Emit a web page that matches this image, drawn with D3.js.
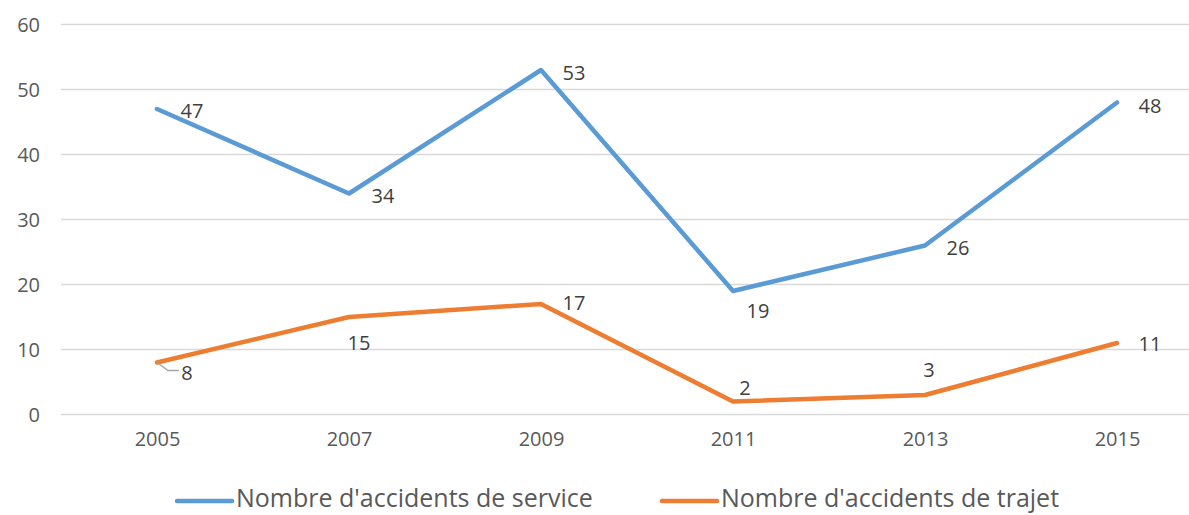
<!DOCTYPE html>
<html>
<head>
<meta charset="utf-8">
<script src="https://cdn.jsdelivr.net/npm/d3@7"></script>
<style>
  body { margin: 0; background: #fff; }
  text { font-family: "Open Sans", sans-serif; fill: #595959; }
</style>
</head>
<body>
<div id="chart"></div>
<script>
var years = ["2005", "2007", "2009", "2011", "2013", "2015"];
var service = [47, 34, 53, 19, 26, 48];
var trajet = [8, 15, 17, 2, 3, 11];
var yTicks = [0, 10, 20, 30, 40, 50, 60];
var seriesNames = ["Nombre d'accidents de service", "Nombre d'accidents de trajet"];

// label offsets (dx, dy) relative to each point
var serviceOffsets = [[35, 2], [34, 2], [33, 3], [25, 20], [33, 2], [33, 3]];
var trajetOffsets = [[30, 10], [10, 26], [33, -1], [12, -14], [4, -25], [33, 1]];

var width = 1189, height = 515;
var svg = d3.select("#chart").append("svg")
  .attr("width", width)
  .attr("height", height);

var x = d3.scalePoint()
  .domain(years)
  .range([157, 1117]);

var y = d3.scaleLinear()
  .domain([0, 60])
  .range([414.5, 24.5]);

// gridlines
svg.append("g")
  .selectAll("line")
  .data(yTicks)
  .enter()
  .append("line")
  .attr("x1", 61)
  .attr("x2", 1213)
  .attr("y1", function(d) { return y(d); })
  .attr("y2", function(d) { return y(d); })
  .attr("stroke", "#d9d9d9")
  .attr("stroke-width", 1.3);

// y axis labels
var yAxis = svg.append("g")
  .attr("transform", "translate(40,0)")
  .call(d3.axisLeft(y).tickValues(yTicks).tickSize(0).tickPadding(0));
yAxis.select(".domain").remove();
yAxis.selectAll("text")
  .style("font-size", "20px")
  .attr("fill", "#595959")
  .attr("dy", "0.35em")
  .attr("font-family", "Open Sans");

// x axis labels
var xAxis = svg.append("g")
  .attr("transform", "translate(0,414.5)")
  .call(d3.axisBottom(x).tickSize(0).tickPadding(17));
xAxis.select(".domain").remove();
xAxis.selectAll("text")
  .style("font-size", "20px")
  .attr("fill", "#595959")
  .attr("font-family", "Open Sans");

var line = d3.line()
  .x(function(d, i) { return x(years[i]); })
  .y(function(d) { return y(d); });

function drawSeries(values, color, offsets) {
  svg.append("path")
    .datum(values)
    .attr("d", line)
    .attr("fill", "none")
    .attr("stroke", color)
    .attr("stroke-width", 4.5)
    .attr("stroke-linejoin", "round")
    .attr("stroke-linecap", "round");

  svg.append("g")
    .selectAll("text")
    .data(values)
    .enter()
    .append("text")
    .attr("x", function(d, i) { return x(years[i]) + offsets[i][0]; })
    .attr("y", function(d, i) { return y(d) + offsets[i][1]; })
    .attr("text-anchor", "middle")
    .attr("dy", "0.35em")
    .style("font-size", "20px")
    .style("fill", "#404040")
    .text(function(d) { return d; });
}

drawSeries(service, "#5b9bd5", serviceOffsets);
drawSeries(trajet, "#ed7d31", trajetOffsets);

// leader line for the first trajet label
svg.append("path")
  .attr("d", "M" + x(years[0]) + "," + y(trajet[0]) +
    " L" + (x(years[0]) + 11) + "," + (y(trajet[0]) + 8) +
    " L" + (x(years[0]) + 22) + "," + (y(trajet[0]) + 8))
  .attr("fill", "none")
  .attr("stroke", "#a6a6a6")
  .attr("stroke-width", 1.3);

// legend
var legendItems = [
  { name: seriesNames[0], color: "#5b9bd5", x: 177 },
  { name: seriesNames[1], color: "#ed7d31", x: 662 }
];
var legend = svg.append("g");
legendItems.forEach(function(item) {
  legend.append("line")
    .attr("x1", item.x)
    .attr("x2", item.x + 55)
    .attr("y1", 501)
    .attr("y2", 501)
    .attr("stroke", item.color)
    .attr("stroke-width", 4.5)
    .attr("stroke-linecap", "round");
  legend.append("text")
    .attr("x", item.x + 59)
    .attr("y", 498)
    .attr("dy", "0.35em")
    .style("font-size", "25px")
    .text(item.name);
});
</script>
</body>
</html>
